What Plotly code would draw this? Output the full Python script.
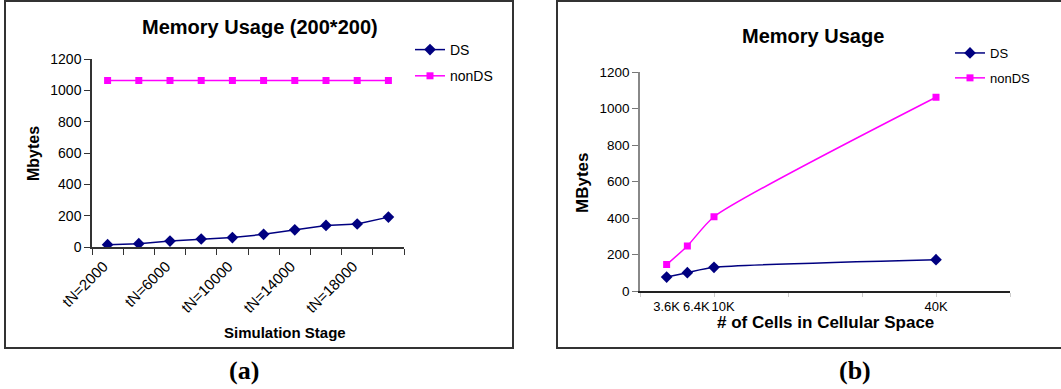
import plotly.graph_objects as go

W, H = 1061, 389

# ---- data panel (a)
stages = ["tN=2000", "tN=4000", "tN=6000", "tN=8000", "tN=10000",
          "tN=12000", "tN=14000", "tN=16000", "tN=18000", "tN=20000"]
ds_a = [15, 21, 38, 51, 60, 81, 110, 138, 147, 191]
nonds_a = [1064, 1064, 1064, 1064, 1064, 1064, 1064, 1064, 1064, 1064]

# ---- data panel (b)
cells = [3600, 6400, 10000, 40000]
cell_labels = ["3.6K", "6.4K", "10K", "40K"]
ds_b = [78, 102, 131, 173]
nonds_b = [146, 248, 408, 1062]

NAVY = "#000080"
MAG = "#FF00FF"
FONT = "Arial, Liberation Sans, sans-serif"
SERIF = "Times New Roman, Liberation Serif, serif"
NB = "\u00a0"


def px(x):
    return x / W


def py(y):
    return 1 - y / H


fig = go.Figure()

# panel (a)
fig.add_trace(go.Scatter(x=stages, y=ds_a, name="DS", mode="lines+markers",
                         line=dict(color=NAVY, width=1.5),
                         marker=dict(symbol="diamond", size=9, color=NAVY),
                         xaxis="x", yaxis="y", legend="legend", legendgroup="a1"))
fig.add_trace(go.Scatter(x=stages, y=nonds_a, name="nonDS", mode="lines+markers",
                         line=dict(color=MAG, width=1.5),
                         marker=dict(symbol="square", size=7, color=MAG),
                         xaxis="x", yaxis="y", legend="legend", legendgroup="a2"))

# panel (b)
fig.add_trace(go.Scatter(x=cells, y=ds_b, name="DS", mode="lines+markers",
                         line=dict(color=NAVY, width=1.5, shape="spline", smoothing=0.6),
                         marker=dict(symbol="diamond", size=9, color=NAVY),
                         xaxis="x2", yaxis="y2", legend="legend2", legendgroup="b1"))
fig.add_trace(go.Scatter(x=cells, y=nonds_b, name="nonDS", mode="lines+markers",
                         line=dict(color=MAG, width=1.5, shape="spline", smoothing=0.6),
                         marker=dict(symbol="square", size=7, color=MAG),
                         xaxis="x2", yaxis="y2", legend="legend2", legendgroup="b2"))

ticktext_a = [s if i % 2 == 0 else "" for i, s in enumerate(stages)]
# crowded labels are nudged right, as in the original
ticktext_b = [cell_labels[0], NB * 5 + cell_labels[1], NB * 5 + cell_labels[2], cell_labels[3]]

fig.update_layout(
    template="none",
    width=W, height=H, autosize=False,
    margin=dict(l=0, r=0, t=0, b=0, pad=0),
    paper_bgcolor="white", plot_bgcolor="white",
    font=dict(family=FONT, size=14, color="black"),
    xaxis=dict(domain=[px(92), px(404)], anchor="y", type="category", automargin=False,
               range=[-0.5, 9.5], tickmode="array", tickvals=stages, ticktext=ticktext_a,
               tickson="boundaries", ticks="outside", ticklen=6, tickcolor="#333",
               tickangle=-45, showline=True, linecolor="#333", linewidth=1.5,
               ticklabelstandoff=3, ticklabelshift=-4,
               showgrid=False, zeroline=False, tickfont=dict(size=15)),
    yaxis=dict(domain=[py(247), py(59.3)], anchor="x", range=[0, 1200], automargin=False,
               tickvals=[0, 200, 400, 600, 800, 1000, 1200], ticks="outside",
               ticklen=6, tickcolor="#333", showline=True, linecolor="#333",
               linewidth=1.5, showgrid=False, zeroline=False,
               tickfont=dict(size=14)),
    xaxis2=dict(domain=[px(640), px(1010)], anchor="y2", range=[0, 50000], automargin=False,
                tickmode="array", tickvals=cells, ticktext=ticktext_b, ticks="",
                tickangle=0, showline=True, linecolor="#222", linewidth=1.5,
                ticklabelstandoff=2,
                showgrid=False, zeroline=False, tickfont=dict(size=13),
                minor=dict(tickmode="linear", tick0=0, dtick=10000, ticks="outside",
                           ticklen=4, tickcolor="#ccc", tickwidth=1, showgrid=False)),
    yaxis2=dict(domain=[py(291.3), py(72)], anchor="x2", range=[0, 1200], automargin=False,
                tickvals=[0, 200, 400, 600, 800, 1000, 1200], ticks="outside",
                ticklen=6, tickcolor="#777", showline=True, linecolor="#888",
                linewidth=1.5, showgrid=False, zeroline=False,
                tickfont=dict(size=13.5)),
    legend=dict(x=px(410), y=py(34), xanchor="left", yanchor="top",
                font=dict(size=14), tracegroupgap=5, bgcolor="rgba(0,0,0,0)"),
    legend2=dict(x=px(950), y=py(38), xanchor="left", yanchor="top",
                 font=dict(size=13), tracegroupgap=5, bgcolor="rgba(0,0,0,0)"),
    showlegend=True,
)

# frames
fig.add_shape(type="rect", xref="paper", yref="paper",
              x0=px(5), x1=px(513), y0=py(348), y1=py(1),
              line=dict(color="#333", width=2))
fig.add_shape(type="rect", xref="paper", yref="paper",
              x0=px(557), x1=px(1062), y0=py(348), y1=py(1),
              line=dict(color="#333", width=2))

ann = [
    dict(text="<b>Memory Usage (200*200)</b>", x=px(260), y=py(27), size=20),
    dict(text="<b>Memory Usage</b>", x=px(813), y=py(36), size=20),
    dict(text="<b>Simulation Stage</b>", x=px(285), y=py(332), size=15),
    dict(text="<b># of Cells in Cellular Space</b>", x=px(825), y=py(322), size=17),
    dict(text="<b>Mbytes</b>", x=px(33), y=py(154), size=16, angle=-90),
    dict(text="<b>MBytes</b>", x=px(582), y=py(183), size=17, angle=-90),
]
for a in ann:
    fig.add_annotation(text=a["text"], x=a["x"], y=a["y"], xref="paper", yref="paper",
                       xanchor="center", yanchor="middle", showarrow=False,
                       textangle=a.get("angle", 0),
                       font=dict(family=FONT, size=a["size"], color="black"))

for t, x in (("(a)", 244), ("(b)", 855)):
    fig.add_annotation(text="<b>" + t + "</b>", x=px(x), y=py(370), xref="paper",
                       yref="paper", xanchor="center", yanchor="middle", showarrow=False,
                       font=dict(family=SERIF, size=26, color="black"))

fig.write_html("out.html", config={"displayModeBar": False},
               post_script="document.body.style.margin='0';document.body.style.overflow='hidden';")
